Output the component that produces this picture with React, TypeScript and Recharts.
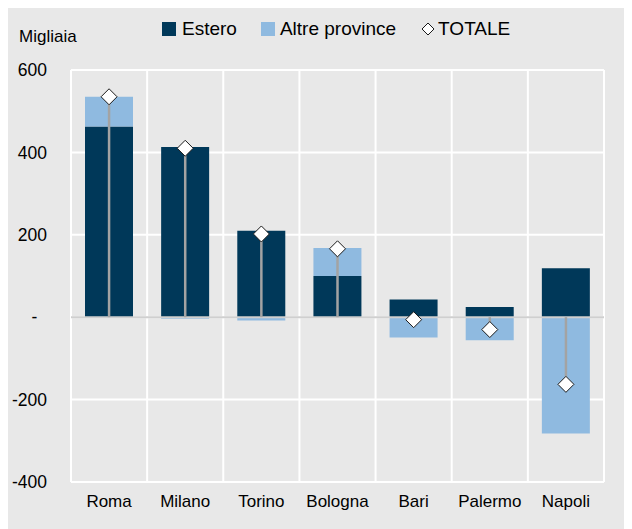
import React from 'react';
import {
  ComposedChart,
  Bar,
  Line,
  XAxis,
  YAxis,
  CartesianGrid,
  ReferenceLine,
  ErrorBar,
  Legend,
} from 'recharts';

const CATEGORIES = ['Roma', 'Milano', 'Torino', 'Bologna', 'Bari', 'Palermo', 'Napoli'];
const ESTERO = [463, 413, 210, 100, 43, 25, 119];
const ALTRE_PROVINCE = [72, -4, -8, 68, -49, -56, -282];
const TOTALE = [535, 410, 202, 166, -6, -30, -163];
const Y_TICKS = [600, 400, 200, 0, -200, -400];

const data = CATEGORIES.map((name, i) => ({
  name,
  estero: ESTERO[i],
  altre: ALTRE_PROVINCE[i],
  totale: TOTALE[i],
  err: TOTALE[i] >= 0 ? [TOTALE[i], 0] : [0, -TOTALE[i]],
}));

const FONT = '"Liberation Sans", Arial, sans-serif';
const DARK = '#003859';
const LIGHT = '#8fbae0';
const BG = '#e8e8e8';

const Diamond = (props: any) => {
  const { cx, cy, index } = props;
  if (cx == null || cy == null) return null;
  const h = 8;
  return (
    <polygon
      key={`d-${index}`}
      points={`${cx},${cy - h} ${cx + h},${cy} ${cx},${cy + h} ${cx - h},${cy}`}
      fill="#ffffff"
      stroke="#1a1a1a"
      strokeWidth={1}
    />
  );
};

const LegendContent = () => (
  <div
    style={{
      display: 'flex',
      alignItems: 'center',
      height: 22,
      fontFamily: FONT,
      fontSize: 19,
      color: '#000',
      whiteSpace: 'nowrap',
      lineHeight: '22px',
    }}
  >
    <span style={{ width: 14, height: 14, background: DARK, display: 'inline-block', marginRight: 6 }} />
    <span style={{ marginRight: 24 }}>Estero</span>
    <span style={{ width: 14, height: 14, background: LIGHT, display: 'inline-block', marginRight: 5 }} />
    <span style={{ marginRight: 25 }}>Altre province</span>
    <svg width={14} height={14} style={{ marginRight: 3 }}>
      <polygon points="7,1 13,7 7,13 1,7" fill="#fff" stroke="#1a1a1a" strokeWidth={1} />
    </svg>
    <span>TOTALE</span>
  </div>
);

export default function App() {
  const W = 624;
  const H = 521;
  return (
    <div style={{ position: 'relative', width: W, height: H, background: BG }}>
      <div
        style={{
          position: 'absolute',
          left: 11,
          top: 19,
          fontFamily: FONT,
          fontSize: 17,
          lineHeight: '20px',
          color: '#000',
        }}
      >
        Migliaia
      </div>
      <ComposedChart
        width={W}
        height={H}
        data={data}
        stackOffset="sign"
        margin={{ top: 62, right: 28, bottom: 0, left: 0 }}
        barSize={48}
      >
        <CartesianGrid
          stroke="#ffffff"
          strokeWidth={2}
          verticalCoordinatesGenerator={({ offset }: any) =>
            Array.from({ length: CATEGORIES.length + 1 }, (_, i) => offset.left + (i * offset.width) / CATEGORIES.length)
          }
        />
        <XAxis
          dataKey="name"
          axisLine={false}
          tickLine={false}
          tickSize={0}
          tickMargin={13}
          height={47}
          interval={0}
          tick={{ fill: '#000', fontSize: 17, fontFamily: FONT }}
        />
        <YAxis
          domain={[-400, 600]}
          ticks={Y_TICKS}
          axisLine={false}
          tickLine={false}
          tickSize={0}
          tickMargin={24}
          width={63}
          interval={0}
          tick={{ fill: '#000', fontSize: 17.5, fontFamily: FONT }}
          tickFormatter={(v: number) => (v === 0 ? '-\u00a0\u00a0' : String(v))}
        />
        <Legend
          layout="horizontal"
          align="center"
          verticalAlign="middle"
          wrapperStyle={{ top: 10, left: 154, width: 'auto' }}
          content={<LegendContent />}
        />
        <Bar dataKey="estero" stackId="a" fill={DARK} isAnimationActive={false} />
        <Bar dataKey="altre" stackId="a" fill={LIGHT} isAnimationActive={false} />
        <ReferenceLine y={0} stroke="#cfcfcf" strokeWidth={2} />
        <Line
          dataKey="totale"
          stroke="none"
          dot={<Diamond />}
          activeDot={false}
          isAnimationActive={false}
          legendType="diamond"
        >
          <ErrorBar dataKey="err" width={0} stroke="#a3a3a3" strokeWidth={2.5} direction="y" />
        </Line>
      </ComposedChart>
    </div>
  );
}
